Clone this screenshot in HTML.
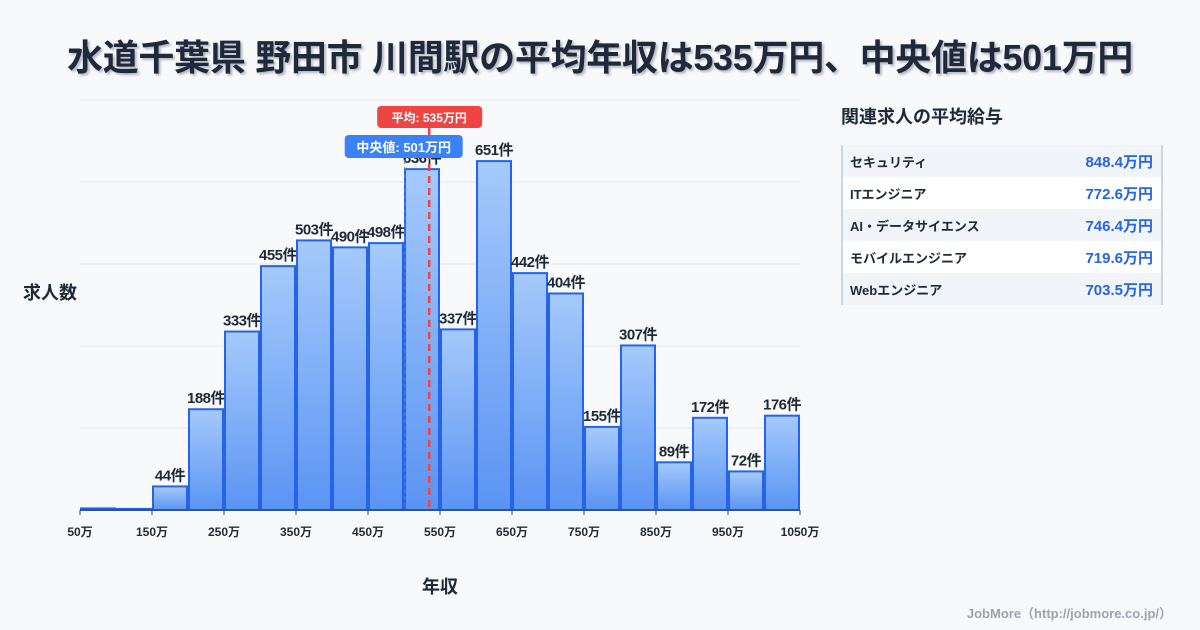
<!DOCTYPE html>
<html><head><meta charset="utf-8">
<style>
body{margin:0;width:1200px;height:630px;background:#f8f9fb;font-family:"Liberation Sans","Noto Sans CJK JP",sans-serif;position:relative;overflow:hidden;color:#1f2937}
#title{position:absolute;left:0;top:29px;width:1200px;text-align:center;font-size:36px;font-weight:bold;color:#1e293b;text-shadow:2px 2px 2px rgba(30,41,59,0.3);letter-spacing:-0.3px}
#side-title{position:absolute;left:841px;top:103px;font-size:18px;font-weight:bold;color:#1e293b}
#table{position:absolute;left:841px;top:145px;width:318px;border-left:2px solid #cbd5e1;border-right:2px solid #cbd5e1}
.row{height:32px;display:flex;justify-content:space-between;align-items:center;padding:0 8px 0 7px;font-size:13px;font-weight:bold}
.row:nth-child(odd){background:#f1f4f8}.row:nth-child(even){background:#fff}
.row span:last-child{color:#2563eb;font-size:15px}
#foot{position:absolute;right:28px;top:603px;font-size:13px;font-weight:bold;color:#9ca3af}
</style></head><body>
<div id="title">水道千葉県 野田市 川間駅の平均年収は535万円、中央値は501万円</div>
<svg id="chart" width="830" height="630" style="position:absolute;left:0;top:0;font-family:'Liberation Sans','Noto Sans CJK JP',sans-serif">
<defs><linearGradient id="g" x1="0" y1="0" x2="0" y2="1"><stop offset="0" stop-color="#a5cafb"/><stop offset="1" stop-color="#5a94f3"/></linearGradient></defs>
</svg>
<div id="side-title">関連求人の平均給与</div>
<div id="table">
<div class="row"><span>セキュリティ</span><span>848.4万円</span></div>
<div class="row"><span>ITエンジニア</span><span>772.6万円</span></div>
<div class="row"><span>AI・データサイエンス</span><span>746.4万円</span></div>
<div class="row"><span>モバイルエンジニア</span><span>719.6万円</span></div>
<div class="row"><span>Webエンジニア</span><span>703.5万円</span></div>
</div>
<div id="foot">JobMore（http://jobmore.co.jp/）</div>
<script>
const binStarts=[50,100,150,200,250,300,350,400,450,500,550,600,650,700,750,800,850,900,950,1000];
const counts=[3,2,44,188,333,455,503,490,498,636,337,651,442,404,155,307,89,172,72,176];
const tickLabels=[50,150,250,350,450,550,650,750,850,950,1050];
const meanVal=535;
const medianVal=501;
const yMax=765;
const ns="http://www.w3.org/2000/svg";
const svg=document.getElementById('chart');
const X0=80,X1=800,Y0=510,Y1=100;
const xs=v=>X0+(v-50)/1000*(X1-X0);
const ys=v=>Y0-v/yMax*(Y0-Y1);
function mk(t,a,txt){const e=document.createElementNS(ns,t);for(const k in a)e.setAttribute(k,a[k]);if(txt!==undefined)e.textContent=txt;svg.appendChild(e);return e;}
for(let i=0;i<=5;i++){const y=ys(yMax*i/5);
const l=mk('line',{x1:X0,x2:X1,y1:y,y2:y,stroke:'#e5e7eb','stroke-width':1});

}
binStarts.forEach((b,i)=>{const x=xs(b),w=xs(b+50)-x,y=ys(counts[i]);
const r=mk('rect',{x:x+1,y:y,width:w-2,height:Y0-y,fill:'url(#g)',stroke:'#2563eb','stroke-width':2});


if(counts[i]>=10){const t=mk('text',{x:x+w/2,y:y-6,'text-anchor':'middle','font-size':15,'font-weight':'bold',fill:'#1f2937','letter-spacing':'-0.5'},counts[i]+'件');

}});
mk('line',{x1:X0,x2:X1,y1:Y0,y2:Y0,stroke:'#374151','stroke-width':1});
tickLabels.forEach(v=>{const x=xs(v);
mk('line',{x1:x,x2:x,y1:Y0,y2:Y0+5,stroke:'#374151'});
const t=mk('text',{x:x,y:536,'text-anchor':'middle','font-size':12,'font-weight':'bold',fill:'#1f2937'},v+'万');

});
const med=mk('line',{x1:xs(medianVal),x2:xs(medianVal),y1:160,y2:Y0,stroke:'#3b82f6','stroke-width':1,'stroke-dasharray':'4,3'});


const mean=mk('line',{x1:xs(meanVal),x2:xs(meanVal),y1:128,y2:Y0,stroke:'#ef4444','stroke-width':2.5,'stroke-dasharray':'7,5'});


const mb=mk('rect',{x:xs(meanVal)-52,y:106,width:105,height:22,rx:4,fill:'#ef4444'});


mk('text',{x:xs(meanVal),y:122,'text-anchor':'middle','font-size':12,'font-weight':'bold',fill:'#fff'},'平均: '+meanVal+'万円');
const db=mk('rect',{x:xs(medianVal)-60,y:135,width:118,height:23,rx:4,fill:'#3b82f6'});


mk('text',{x:xs(medianVal)-1,y:152,'text-anchor':'middle','font-size':13,'font-weight':'bold',fill:'#fff'},'中央値: '+medianVal+'万円');
const yt=mk('text',{x:50,y:299,'text-anchor':'middle','font-size':18,'font-weight':'bold',fill:'#1f2937'},'求人数');


const xt=mk('text',{x:440,y:593,'text-anchor':'middle','font-size':18,'font-weight':'bold',fill:'#1f2937'},'年収');


</script>
</body></html>
